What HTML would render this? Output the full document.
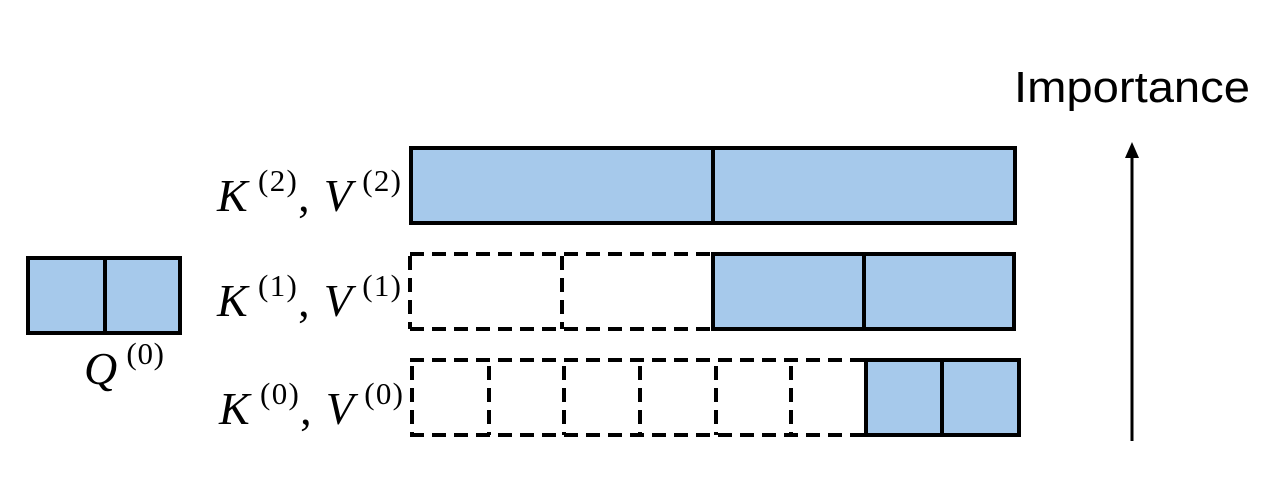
<!DOCTYPE html>
<html><head><meta charset="utf-8"><style>
html,body{margin:0;padding:0;background:#fff;width:1287px;height:493px;overflow:hidden}
</style></head><body>
<svg width="1287" height="493" viewBox="0 0 1287 493" xmlns="http://www.w3.org/2000/svg">
<g stroke="#000" stroke-width="4" fill="#a6c9eb">
<rect x="28" y="258" width="152" height="75"/>
<line x1="105" y1="258" x2="105" y2="333"/>
<rect x="411" y="148" width="604" height="75"/>
<line x1="713" y1="148" x2="713" y2="223"/>
<rect x="713" y="254" width="301" height="75"/>
<line x1="864" y1="254" x2="864" y2="329"/>
<rect x="866" y="360" width="153" height="75"/>
<line x1="942" y1="360" x2="942" y2="435"/>
</g>
<g stroke="#000" stroke-width="4" fill="none" stroke-dasharray="14,8">
<line x1="410" y1="254" x2="713" y2="254"/>
<line x1="410" y1="329" x2="713" y2="329"/>
<line x1="410" y1="256" x2="410" y2="329"/>
<line x1="562" y1="256" x2="562" y2="329"/>
<line x1="410" y1="360" x2="866" y2="360"/>
<line x1="410" y1="435" x2="866" y2="435"/>
<line x1="412" y1="366" x2="412" y2="435"/>
<line x1="489" y1="366" x2="489" y2="435"/>
<line x1="564" y1="366" x2="564" y2="435"/>
<line x1="640" y1="366" x2="640" y2="435"/>
<line x1="716" y1="366" x2="716" y2="435"/>
<line x1="791" y1="366" x2="791" y2="435"/>
</g>
<line x1="1132" y1="441" x2="1132" y2="155" stroke="#000" stroke-width="3"/>
<polygon points="1132,142 1125,158 1139,158" fill="#000"/>
<text x="1014" y="102" font-family="Liberation Sans, sans-serif" font-size="44" textLength="236" lengthAdjust="spacingAndGlyphs">Importance</text>
<g font-family="Liberation Serif, serif" font-size="46">
<text x="217" y="211" textLength="184" lengthAdjust="spacing"><tspan font-style="italic">K</tspan><tspan font-size="31" dy="-20"> (2)</tspan><tspan dy="20">, </tspan><tspan font-style="italic">V</tspan><tspan font-size="31" dy="-20"> (2)</tspan></text>
<text x="217" y="316" textLength="184" lengthAdjust="spacing"><tspan font-style="italic">K</tspan><tspan font-size="31" dy="-20"> (1)</tspan><tspan dy="20">, </tspan><tspan font-style="italic">V</tspan><tspan font-size="31" dy="-20"> (1)</tspan></text>
<text x="219" y="424" textLength="184" lengthAdjust="spacing"><tspan font-style="italic">K</tspan><tspan font-size="31" dy="-20"> (0)</tspan><tspan dy="20">, </tspan><tspan font-style="italic">V</tspan><tspan font-size="31" dy="-20"> (0)</tspan></text>
<text x="84" y="384" textLength="80" lengthAdjust="spacing"><tspan font-style="italic">Q</tspan><tspan font-size="31" dy="-20"> (0)</tspan></text>
</g>
</svg>
</body></html>
